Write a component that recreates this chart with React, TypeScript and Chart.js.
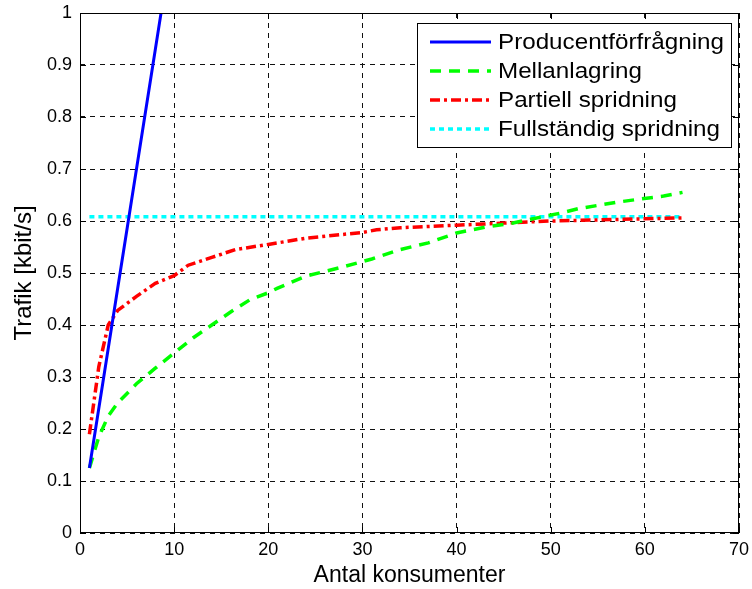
import React, { useEffect, useRef } from "react";
import { Chart, registerables } from "chart.js";

Chart.register(...registerables);

const seriesNames = ["Producentförfrågning", "Mellanlagring", "Partiell spridning", "Fullständig spridning"];

const blueX = [1, 2, 4, 8, 16, 32, 64];
const blueY = [0.125, 0.24, 0.47, 0.93, 1.85, 3.7, 7.4];

const greenX = [1, 2, 3, 4, 6, 8, 10, 12, 14, 16, 18, 20, 21, 24, 28, 31, 34, 37, 40, 43, 46, 48, 51, 53, 57, 59, 62, 64];
const greenY = [0.125, 0.185, 0.225, 0.25, 0.287, 0.317, 0.346, 0.375, 0.4, 0.425, 0.448, 0.462, 0.471, 0.494, 0.512, 0.527, 0.545, 0.558, 0.577, 0.588, 0.596, 0.604, 0.615, 0.624, 0.636, 0.641, 0.648, 0.655];

const redX = [1, 2, 3, 4, 6, 8, 10, 11.5, 14, 16.5, 20, 24, 30, 31.5, 34, 40, 45, 50, 64];
const redY = [0.19, 0.32, 0.4, 0.428, 0.455, 0.48, 0.495, 0.515, 0.53, 0.545, 0.555, 0.567, 0.578, 0.583, 0.587, 0.592, 0.596, 0.6, 0.606];

const cyanX = [1, 64];
const cyanY = [0.608, 0.608];

const xTicks = [0, 10, 20, 30, 40, 50, 60, 70];
const yTicks = [0, 0.1, 0.2, 0.3, 0.4, 0.5, 0.6, 0.7, 0.8, 0.9, 1];

const colors = ["#0000ff", "#00ff00", "#ff0000", "#00ffff"];
const dashes: number[][] = [[], [11, 8], [10, 4, 3, 4], [5, 4]];
const widths = [3, 3.5, 3.5, 3.5];

const zip = (xs: number[], ys: number[]) => xs.map((x, i) => ({ x, y: ys[i] }));

const FONT = "'Liberation Sans', Arial, sans-serif";

const frame = {
  id: "frame",
  afterDatasetsDraw(chart: any) {
    const { ctx, chartArea: a, scales } = chart;
    ctx.save();
    ctx.strokeStyle = "#000";
    ctx.lineWidth = 1;
    ctx.setLineDash([]);
    ctx.strokeRect(a.left + 0.5, a.top + 0.5, a.right - a.left - 1, a.bottom - a.top - 1);
    const tl = 6;
    ctx.beginPath();
    xTicks.forEach((v) => {
      const px = Math.round(scales.x.getPixelForValue(v)) + 0.5;
      ctx.moveTo(px, a.bottom);
      ctx.lineTo(px, a.bottom - tl);
      ctx.moveTo(px, a.top);
      ctx.lineTo(px, a.top + tl);
    });
    yTicks.forEach((v) => {
      const py = Math.round(scales.y.getPixelForValue(v)) + 0.5;
      ctx.moveTo(a.left, py);
      ctx.lineTo(a.left + tl, py);
      ctx.moveTo(a.right, py);
      ctx.lineTo(a.right - tl, py);
    });
    ctx.stroke();

    // legend
    const bx = 417, by = 23, bw = 314, bh = 124;
    ctx.fillStyle = "#fff";
    ctx.fillRect(bx, by, bw, bh);
    ctx.strokeRect(bx + 0.5, by + 0.5, bw, bh);
    ctx.font = `22px ${FONT}`;
    ctx.textBaseline = "middle";
    ctx.textAlign = "left";
    seriesNames.forEach((name, i) => {
      const y = by + 19 + i * 29;
      ctx.beginPath();
      ctx.strokeStyle = colors[i];
      ctx.lineWidth = widths[i];
      ctx.setLineDash(dashes[i]);
      ctx.moveTo(bx + 13, y);
      ctx.lineTo(bx + 74, y);
      ctx.stroke();
      ctx.setLineDash([]);
      ctx.fillStyle = "#000";
      ctx.save();
      ctx.translate(bx + 81, y);
      ctx.scale(1.1, 1);
      ctx.fillText(name, 0, 1);
      ctx.restore();
    });
    ctx.restore();
  },
};

export default function App() {
  const ref = useRef<HTMLCanvasElement>(null);
  useEffect(() => {
    document.body.style.margin = "0";
    const xs = [blueX, greenX, redX, cyanX];
    const ys = [blueY, greenY, redY, cyanY];
    const chart = new Chart(ref.current!, {
      type: "line",
      data: {
        datasets: seriesNames.map((n, i) => ({
          label: n,
          data: zip(xs[i], ys[i]),
          borderColor: colors[i],
          backgroundColor: colors[i],
          borderWidth: widths[i],
          borderDash: dashes[i],
          pointRadius: 0,
          tension: 0,
          fill: false,
        })),
      },
      options: {
        animation: false,
        responsive: false,
        maintainAspectRatio: false,
        layout: { padding: { left: 0, top: 13, right: 13, bottom: 0 } },
        plugins: { legend: { display: false }, tooltip: { enabled: false } },
        scales: {
          x: {
            type: "linear",
            min: 0,
            max: 70,
            afterFit: (s: any) => { s.height = 56; s.paddingLeft = 0; s.paddingRight = 0; },
            afterBuildTicks: (s: any) => { s.ticks = xTicks.map((v) => ({ value: v })); },
            ticks: { color: "#000", font: { family: FONT, size: 18 }, padding: 6, maxRotation: 0 },
            grid: { color: "#111", lineWidth: 1, drawTicks: false },
            border: { display: false, dash: [5, 5] },
            title: { display: true, text: "Antal konsumenter", color: "#000", font: { family: FONT, size: 23 }, padding: { top: 0, bottom: 0 } },
          },
          y: {
            type: "linear",
            min: 0,
            max: 1,
            afterFit: (s: any) => { s.width = 80; s.paddingTop = 0; s.paddingBottom = 0; },
            afterBuildTicks: (s: any) => { s.ticks = yTicks.map((v) => ({ value: v })); },
            ticks: { color: "#000", font: { family: FONT, size: 18 }, padding: 8, callback: (v: any) => String(Math.round(v * 10) / 10) },
            grid: { color: "#111", lineWidth: 1, drawTicks: false },
            border: { display: false, dash: [5, 5] },
            title: { display: true, text: "Trafik [kbit/s]", color: "#000", font: { family: FONT, size: 24 }, padding: { top: 10, bottom: 0 } },
          },
        },
      },
      plugins: [frame],
    } as any);
    return () => chart.destroy();
  }, []);
  return (
    <div style={{ width: 752, height: 589, background: "#fff" }}>
      <canvas ref={ref} width={752} height={589} style={{ display: "block" }} />
    </div>
  );
}
